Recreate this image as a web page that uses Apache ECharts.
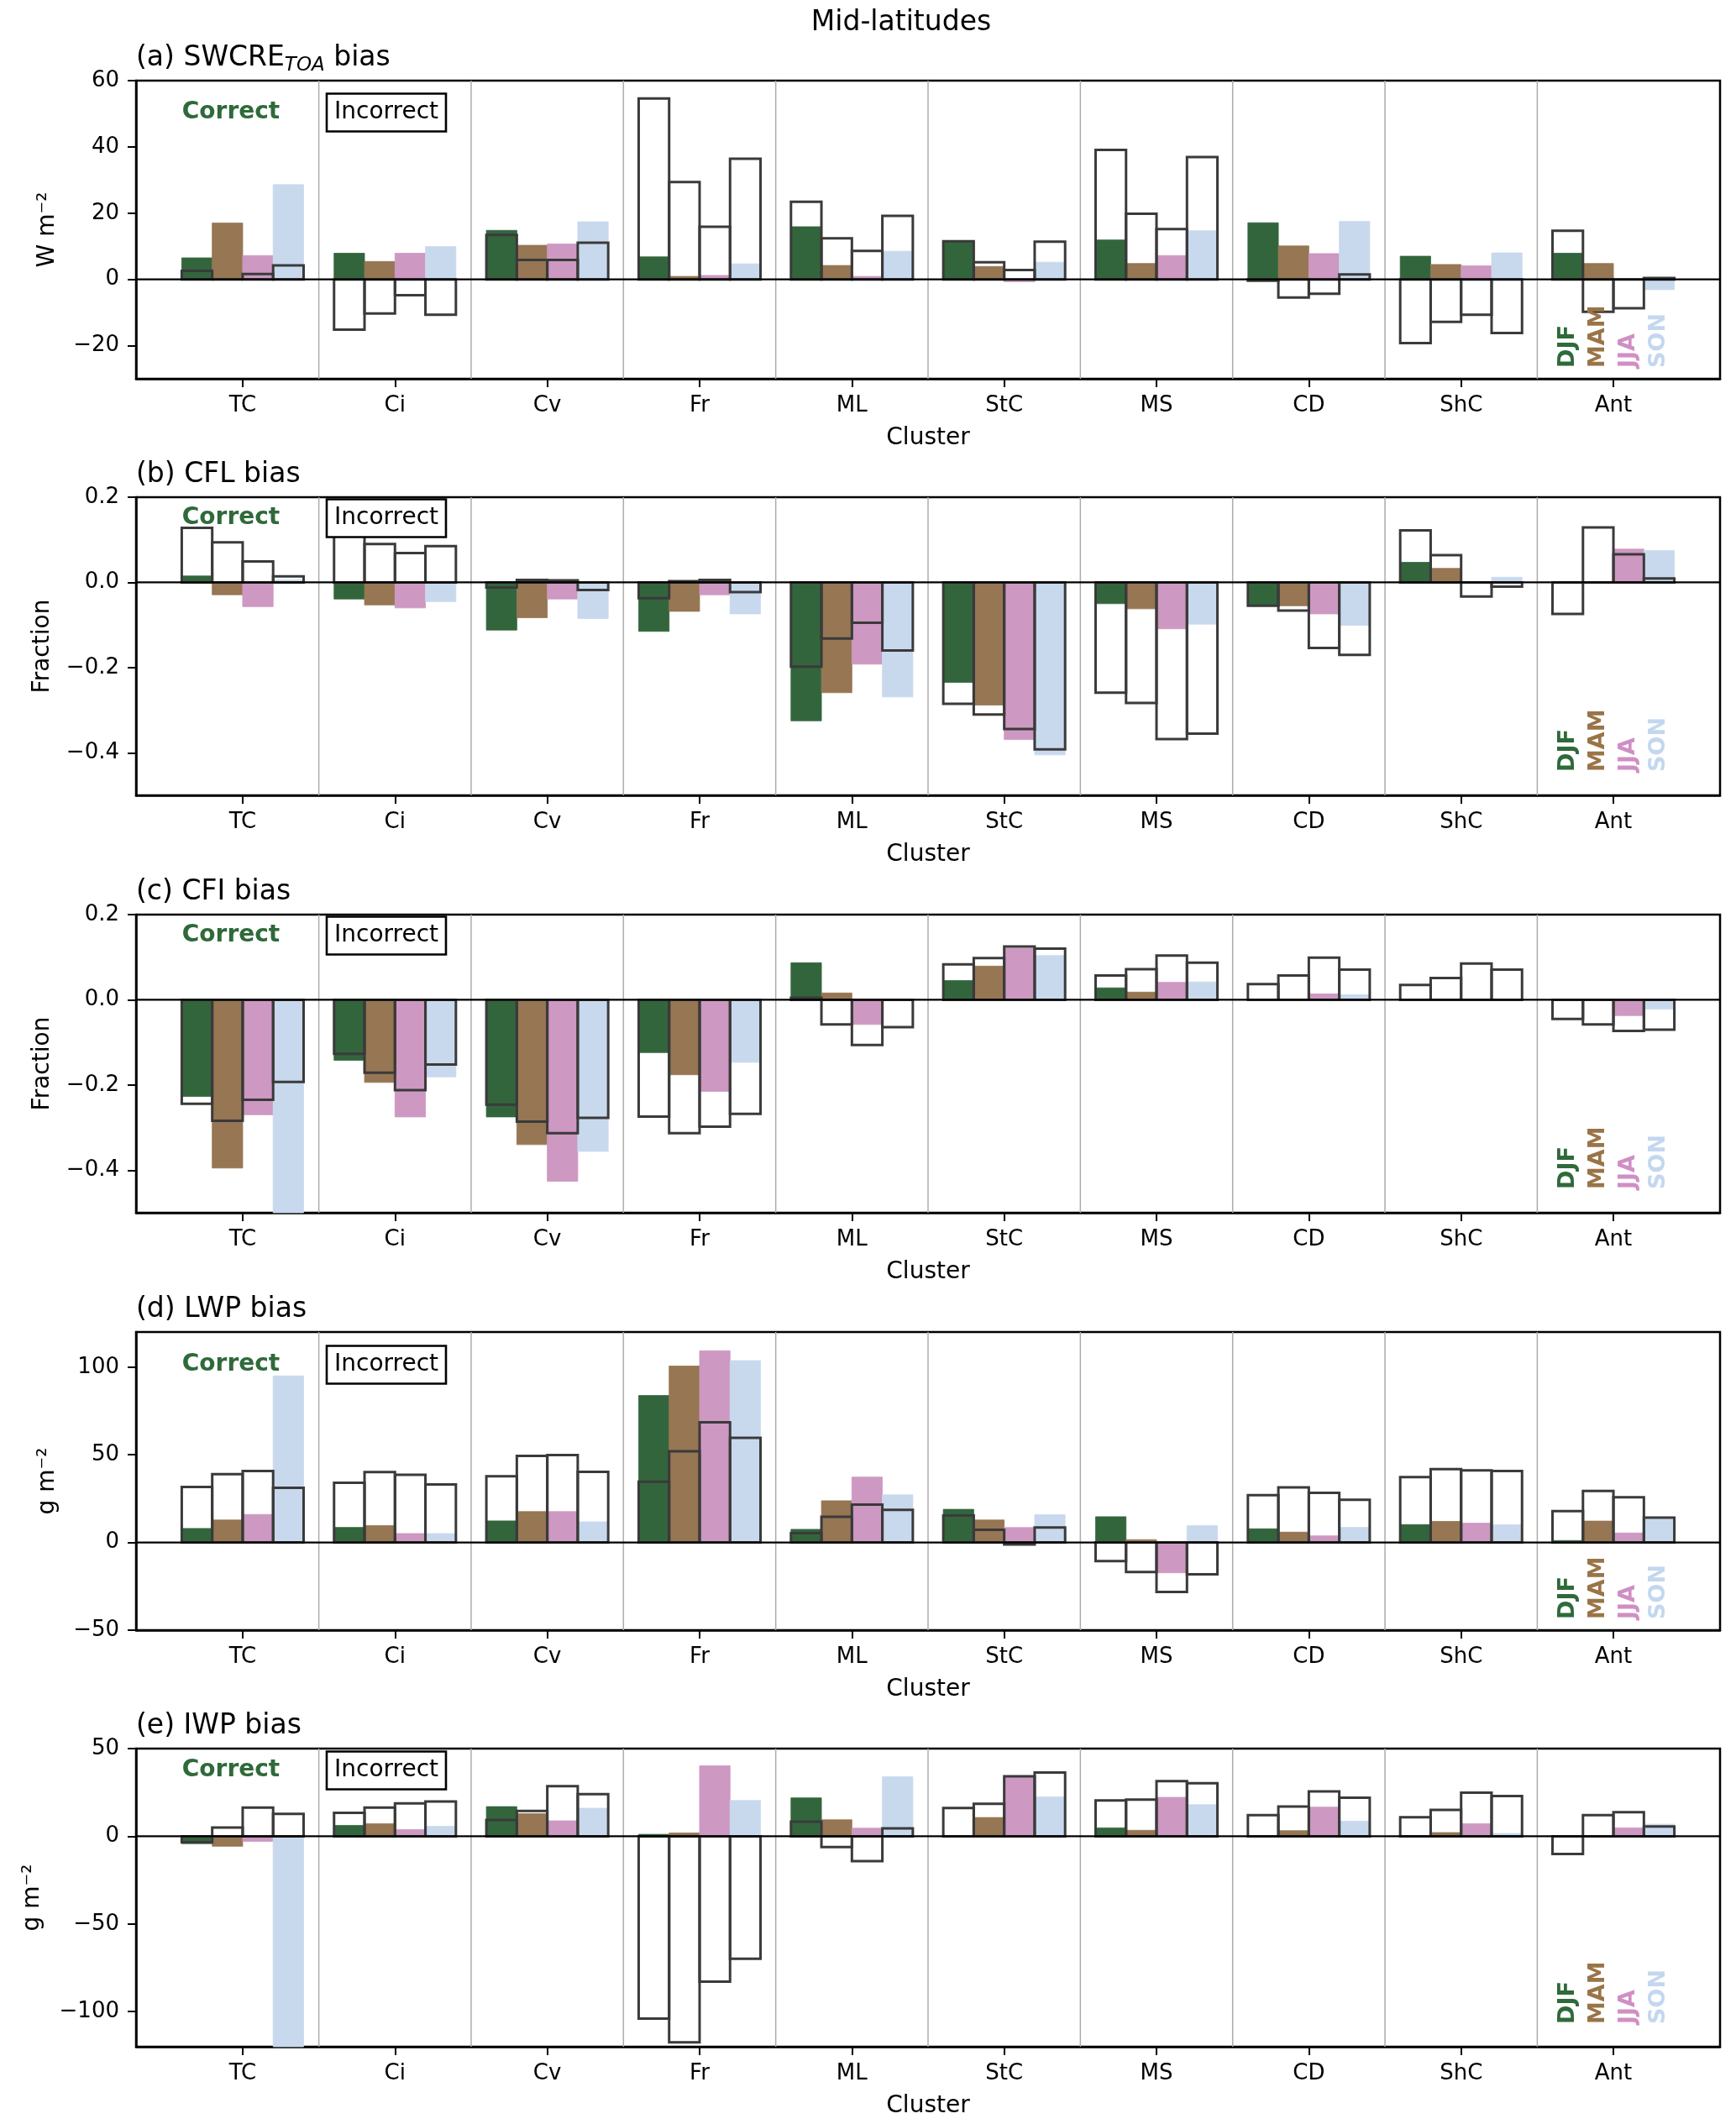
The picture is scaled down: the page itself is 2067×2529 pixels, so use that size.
<!DOCTYPE html>
<html><head><meta charset="utf-8">
<script src="https://cdn.jsdelivr.net/npm/echarts@6/dist/echarts.min.js"></script>
<style>html,body{margin:0;padding:0;background:#fff}#chart{width:2067px;height:2529px}</style>
</head><body><div id="chart"></div>
<script>
// ---------------- data ----------------
const clusters = ['TC','Ci','Cv','Fr','ML','StC','MS','CD','ShC','Ant'];
const seasons = ['DJF','MAM','JJA','SON'];

// (a) SWCRE_TOA bias, W m-2 ; rows = DJF, MAM, JJA, SON
const swcreCorrect = [
  [6.5, 7.9, 14.8, 6.8, 15.9, 11.5, 11.9, 17.1, 7.0, 7.9],
  [17.0, 5.4, 10.3, 0.9, 4.2, 3.9, 4.8, 10.1, 4.5, 4.8],
  [7.2, 7.9, 10.7, 1.2, 0.9, -0.7, 7.2, 7.8, 4.1, 0],
  [28.6, 9.9, 17.4, 4.7, 8.5, 5.2, 14.7, 17.5, 8.0, -3.1]
];
const swcreIncorrect = [
  [2.6, -15.2, 13.4, 54.6, 23.4, 11.5, 39.1, -0.4, -19.2, 14.7],
  [0, -10.3, 5.9, 29.4, 12.4, 5.2, 19.8, -5.5, -12.8, -9.8],
  [1.6, -4.8, 5.9, 15.9, 8.6, 2.8, 15.2, -4.3, -10.7, -8.7],
  [4.2, -10.7, 11.1, 36.4, 19.2, 11.4, 36.9, 1.5, -16.2, 0.4]
];
// (b) CFL bias, fraction
const cflCorrect = [
  [0.015, -0.039, -0.112, -0.115, -0.325, -0.235, -0.050, -0.055, 0.047, 0],
  [-0.029, -0.053, -0.083, -0.068, -0.259, -0.288, -0.062, -0.055, 0.033, 0],
  [-0.057, -0.060, -0.039, -0.029, -0.192, -0.369, -0.109, -0.074, 0.002, 0.078],
  [0.006, -0.045, -0.085, -0.074, -0.269, -0.405, -0.098, -0.101, 0.012, 0.075]
];
const cflIncorrect = [
  [0.128, 0.116, -0.012, -0.037, -0.198, -0.285, -0.259, -0.055, 0.122, -0.074],
  [0.094, 0.090, 0.006, 0.003, -0.132, -0.310, -0.283, -0.066, 0.064, 0.129],
  [0.049, 0.069, 0.005, 0.006, -0.095, -0.344, -0.368, -0.154, -0.033, 0.066],
  [0.014, 0.085, -0.018, -0.023, -0.160, -0.392, -0.355, -0.170, -0.010, 0.009]
];
// (c) CFI bias, fraction
const cfiCorrect = [
  [-0.227, -0.142, -0.275, -0.124, 0.087, 0.045, 0.028, 0, 0, 0],
  [-0.395, -0.194, -0.340, -0.176, 0.016, 0.079, 0.018, 0, -0.002, 0],
  [-0.270, -0.275, -0.426, -0.215, -0.058, 0.121, 0.041, 0.014, 0, -0.037],
  [-0.52, -0.181, -0.356, -0.147, 0, 0.104, 0.042, 0.012, 0, -0.022]
];
const cfiIncorrect = [
  [-0.244, -0.127, -0.246, -0.274, 0.005, 0.083, 0.057, 0.037, 0.035, -0.045],
  [-0.284, -0.171, -0.286, -0.313, -0.058, 0.098, 0.072, 0.057, 0.051, -0.058],
  [-0.235, -0.212, -0.313, -0.298, -0.106, 0.125, 0.104, 0.099, 0.085, -0.073],
  [-0.193, -0.152, -0.277, -0.268, -0.064, 0.120, 0.087, 0.071, 0.071, -0.070]
];
// (d) LWP bias, g m-2
const lwpCorrect = [
  [8.0, 8.6, 12.3, 83.8, 7.5, 18.9, 14.7, 7.8, 10.2, 1.1],
  [12.8, 9.6, 17.6, 100.6, 23.8, 12.8, 1.6, 5.9, 12.0, 12.2],
  [16.0, 5.1, 17.6, 109.3, 37.3, 8.5, -17.3, 3.8, 11.0, 5.4],
  [95.0, 5.1, 11.8, 103.7, 27.2, 15.8, 9.6, 8.6, 10.1, 13.4]
];
const lwpIncorrect = [
  [31.7, 34.1, 37.8, 34.6, 5.3, 15.4, -10.6, 27.0, 37.3, 17.9],
  [38.9, 40.2, 49.4, 52.0, 14.6, 7.2, -16.8, 31.4, 41.8, 29.4],
  [40.8, 38.6, 49.9, 68.5, 21.6, -1.1, -28.2, 28.3, 41.1, 25.8],
  [31.2, 33.1, 40.3, 59.7, 18.6, 8.6, -18.2, 24.3, 40.8, 14.2]
];
// (e) IWP bias, g m-2
const iwpCorrect = [
  [-4.2, 6.2, 16.9, 1.1, 21.9, 0, 4.8, 0, 0, 0],
  [-5.7, 7.2, 12.9, 1.9, 9.4, 10.7, 3.4, 3.2, 2.1, 0],
  [-2.9, 3.8, 8.8, 40.2, 4.6, 33.9, 22.2, 16.6, 7.2, 4.8],
  [-125, 5.7, 16.0, 20.4, 34.0, 22.5, 18.0, 8.6, 1.6, 6.9]
];
const iwpIncorrect = [
  [-3.4, 13.4, 9.3, -104, 8.3, 16.1, 20.4, 12.0, 10.9, -10.1],
  [5.0, 16.3, 14.4, -117.5, -6.1, 18.5, 20.9, 16.9, 15.0, 12.1],
  [16.3, 18.8, 28.6, -82.9, -14.2, 34.2, 31.5, 25.6, 24.9, 13.7],
  [12.8, 19.8, 24.0, -69.8, 4.5, 36.3, 30.2, 22.0, 23.0, 5.6]
];

const yTicksA = [-20, 0, 20, 40, 60];
const yTicksB = [-0.4, -0.2, 0, 0.2];
const yTicksC = [-0.4, -0.2, 0, 0.2];
const yTicksD = [-50, 0, 50, 100];
const yTicksE = [-100, -50, 0, 50];

// ---------------- style ----------------
const FONT = 'DejaVu Sans';
const seasonColors = ['#33653d', '#967653', '#cd98c1', '#c8d9ee'];
const seasonTextColors = ['#2f6a3a', '#9a7447', '#d08fc4', '#c3d7ef'];
const seasonOffsets = [-0.3, -0.1, 0.1, 0.3];
const BAR_W = 0.2;
const OUTLINE = '#3a3a3a';

const panels = [
  {t1: '(a) SWCRE', sub: 'TOA', t2: ' bias', unit: 'W m\u207B\u00B2', min: -30, max: 60, ticks: yTicksA, dec: 0, nameGap: 91,
   correct: swcreCorrect, incorrect: swcreIncorrect, legendDy: 38, seasonDy: 13},
  {t1: '(b) CFL bias', unit: 'Fraction', min: -0.5, max: 0.2, ticks: yTicksB, dec: 1, nameGap: 97,
   correct: cflCorrect, incorrect: cflIncorrect, legendDy: 25, seasonDy: 28},
  {t1: '(c) CFI bias', unit: 'Fraction', min: -0.5, max: 0.2, ticks: yTicksC, dec: 1, nameGap: 97,
   correct: cfiCorrect, incorrect: cfiIncorrect, legendDy: 25, seasonDy: 28},
  {t1: '(d) LWP bias', unit: 'g m\u207B\u00B2', min: -50, max: 120, ticks: yTicksD, dec: 0, nameGap: 91,
   correct: lwpCorrect, incorrect: lwpIncorrect, legendDy: 39, seasonDy: 13},
  {t1: '(e) IWP bias', unit: 'g m\u207B\u00B2', min: -120, max: 50, ticks: yTicksE, dec: 0, nameGap: 109,
   correct: iwpCorrect, incorrect: iwpIncorrect, legendDy: 26, seasonDy: 27}
];

const GRID_LEFT = 162, GRID_RIGHT = 19, GRID_H = 355;
const gridTops = [96, 592, 1089, 1586, 2082];

function fmtTick(v, dec) {
  let s = Math.abs(v).toFixed(dec);
  return (v < -1e-9 ? '\u2212' : '') + s;
}

function barRender(offset, outline, color) {
  return function (params, api) {
    const x = api.value(0) + offset;
    const v = api.value(1);
    const p1 = api.coord([x - BAR_W / 2, v]);
    const p2 = api.coord([x + BAR_W / 2, 0]);
    const shape = {x: p1[0], y: Math.min(p1[1], p2[1]), width: p2[0] - p1[0], height: Math.abs(p2[1] - p1[1])};
    const cs = params.coordSys;
    const r = echarts.graphic.clipRectByRect(shape, {x: cs.x, y: cs.y, width: cs.width, height: cs.height});
    if (!r) return null;
    return {
      type: 'rect', shape: r,
      style: outline ? {fill: 'none', stroke: OUTLINE, lineWidth: 3} : {fill: color, stroke: color, lineWidth: 0.8}
    };
  };
}

const separators = clusters.slice(0, -1).map((c, i) => [i + 0.5, 0]);

const grids = [], xAxes = [], yAxes = [], series = [];
panels.forEach((p, k) => {
  grids.push({left: GRID_LEFT, right: GRID_RIGHT, top: gridTops[k], height: GRID_H, show: true,
    borderColor: '#000', borderWidth: 2.5, backgroundColor: 'transparent', containLabel: false});
  xAxes.push({
    gridIndex: k, type: 'value', min: -0.7, max: 9.7,
    name: 'Cluster', nameLocation: 'middle', nameGap: 57, nameMoveOverlap: false,
    nameTextStyle: {fontFamily: FONT, fontSize: 28, color: '#000'},
    axisLine: {show: true, onZero: false, lineStyle: {color: '#000', width: 2.5}},
    axisTick: {show: true, inside: false, length: 10, lineStyle: {color: '#000', width: 2}, customValues: clusters.map((c, i) => i)},
    axisLabel: {show: true, margin: 19, fontFamily: FONT, fontSize: 26, color: '#000',
      customValues: clusters.map((c, i) => i), formatter: v => clusters[Math.round(v)] || ''},
    splitLine: {show: false}
  });
  yAxes.push({
    gridIndex: k, type: 'value', min: p.min, max: p.max,
    name: p.unit, nameLocation: 'middle', nameGap: p.nameGap, nameRotate: 90, nameMoveOverlap: false,
    nameTextStyle: {fontFamily: FONT, fontSize: 28, color: '#000'},
    axisLine: {show: true, onZero: false, lineStyle: {color: '#000', width: 2.5}},
    axisTick: {show: true, inside: false, length: 10, lineStyle: {color: '#000', width: 2}, customValues: p.ticks},
    axisLabel: {show: true, margin: 20, fontFamily: FONT, fontSize: 26, color: '#000',
      customValues: p.ticks, formatter: v => fmtTick(v, p.dec)},
    splitLine: {show: false}
  });
  // cluster separators
  series.push({
    type: 'custom', xAxisIndex: k, yAxisIndex: k, z: 1, silent: true, data: separators,
    renderItem: (params, api) => {
      const cs = params.coordSys;
      const px = api.coord([api.value(0), 0])[0];
      return {type: 'line', shape: {x1: px, y1: cs.y, x2: px, y2: cs.y + cs.height},
        style: {stroke: '#acacac', lineWidth: 1.5}};
    }
  });
  // fills (correct)
  seasons.forEach((s, j) => {
    series.push({
      type: 'custom', name: s + ' correct', xAxisIndex: k, yAxisIndex: k, z: 2, silent: true,
      data: p.correct[j].map((v, i) => [i, v]),
      renderItem: barRender(seasonOffsets[j], false, seasonColors[j])
    });
  });
  // outlines (incorrect)
  seasons.forEach((s, j) => {
    series.push({
      type: 'custom', name: s + ' incorrect', xAxisIndex: k, yAxisIndex: k, z: 3, silent: true,
      data: p.incorrect[j].map((v, i) => [i, v]),
      renderItem: barRender(seasonOffsets[j], true, null)
    });
  });
  // zero line
  series.push({
    type: 'custom', xAxisIndex: k, yAxisIndex: k, z: 4, silent: true, data: [[0, 0]],
    renderItem: (params, api) => {
      const cs = params.coordSys;
      const py = api.coord([0, api.value(1)])[1];
      return {type: 'line', shape: {x1: cs.x, y1: py, x2: cs.x + cs.width, y2: py},
        style: {stroke: '#000', lineWidth: 2.2}};
    }
  });
});

const chart = echarts.init(document.getElementById('chart'), null, {renderer: 'canvas'});
chart.setOption({
  animation: false,
  backgroundColor: '#fff',
  grid: grids, xAxis: xAxes, yAxis: yAxes, series: series
});

// ---------------- annotations (titles, legend texts) ----------------
const mc = document.createElement('canvas').getContext('2d');
function textW(t, size, style) { mc.font = (style || '') + ' ' + size + 'px "' + FONT + '"'; return mc.measureText(t).width; }

const graphics = [];
graphics.push({type: 'text', x: 1073, y: 27, style: {text: 'Mid-latitudes', fontFamily: FONT, fontSize: 33, fill: '#000', align: 'center', verticalAlign: 'middle'}});

panels.forEach((p, k) => {
  const top = gridTops[k], bottom = top + GRID_H;
  const ty = top - 27;
  let x = GRID_LEFT;
  graphics.push({type: 'text', x: x, y: ty, style: {text: p.t1, fontFamily: FONT, fontSize: 33, fill: '#000', align: 'left', verticalAlign: 'middle'}});
  if (p.sub) {
    x += textW(p.t1, 33);
    graphics.push({type: 'text', x: x, y: ty + 9, style: {text: p.sub, fontFamily: FONT, fontSize: 23, fontStyle: 'italic', fill: '#000', align: 'left', verticalAlign: 'middle'}});
    x += textW(p.sub, 23, 'italic');
    graphics.push({type: 'text', x: x, y: ty, style: {text: p.t2, fontFamily: FONT, fontSize: 33, fill: '#000', align: 'left', verticalAlign: 'middle'}});
  }
  const ly = top + p.legendDy;
  graphics.push({type: 'text', x: GRID_LEFT + 113, y: ly, z: 10, style: {text: 'Correct', fontFamily: FONT, fontSize: 28, fontWeight: 'bold', fill: '#2f6a3a', align: 'center', verticalAlign: 'middle'}});
  graphics.push({type: 'rect', z: 10, shape: {x: GRID_LEFT + 227, y: ly - 22.5, width: 142, height: 45}, style: {fill: '#fff', stroke: '#000', lineWidth: 2.6}});
  graphics.push({type: 'text', x: GRID_LEFT + 298, y: ly, z: 11, style: {text: 'Incorrect', fontFamily: FONT, fontSize: 28, fill: '#000', align: 'center', verticalAlign: 'middle'}});
  // season labels at the Ant bar positions
  seasons.forEach((s, j) => {
    const px = chart.convertToPixel({xAxisIndex: k, yAxisIndex: k}, [clusters.length - 1 + seasonOffsets[j], 0])[0];
    graphics.push({type: 'text', x: px, y: bottom - p.seasonDy, rotation: Math.PI / 2, z: 10,
      style: {text: s, fontFamily: FONT, fontSize: 27, fontWeight: 'bold', fill: seasonTextColors[j], align: 'left', verticalAlign: 'middle'}});
  });
});
chart.setOption({graphic: graphics});
</script></body></html>
